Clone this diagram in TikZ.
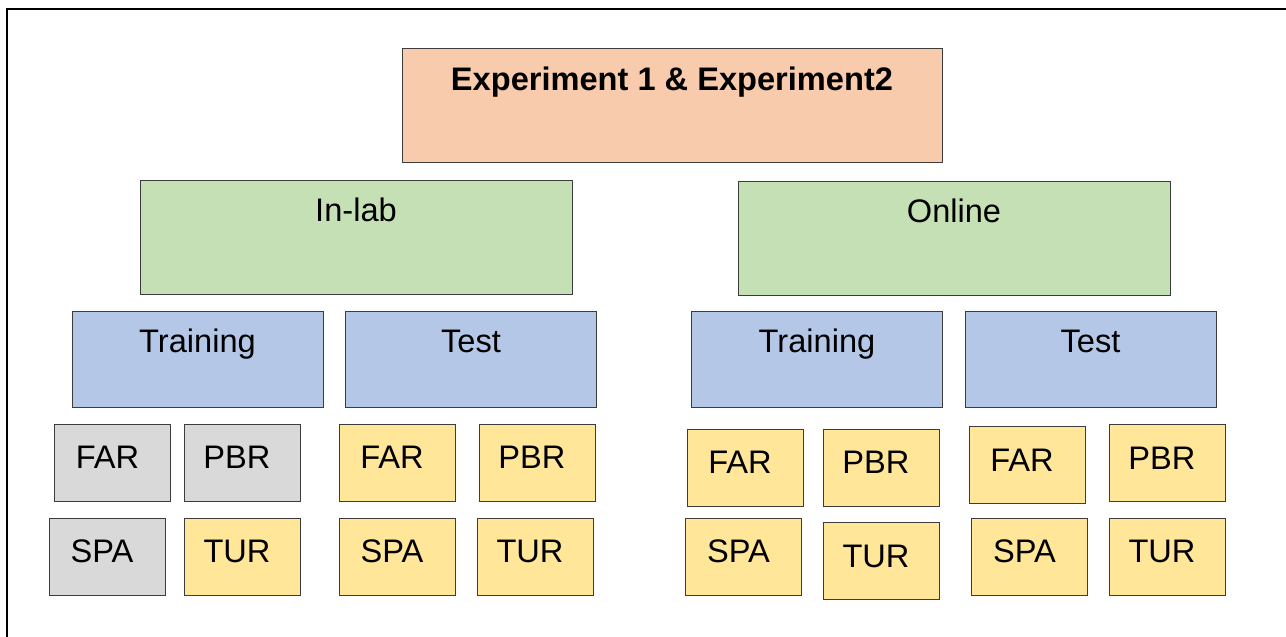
\documentclass[tikz,border=0pt]{standalone}
\usepackage{fontspec}
\setmainfont{Liberation Sans}
\definecolor{exporange}{RGB}{248, 203, 173}
\definecolor{sitegreen}{RGB}{197, 224, 180}
\definecolor{phaseblue}{RGB}{180, 199, 231}
\definecolor{skipgray}{RGB}{217, 217, 217}
\definecolor{langyellow}{RGB}{255, 230, 153}
\definecolor{edgegray}{RGB}{60, 60, 60}
\usetikzlibrary{positioning}
\tikzset{
  box/.style={draw=edgegray, line width=0.5pt, rectangle, inner sep=3pt,
    font=\fontsize{16.3}{19}\selectfont, text height=11.7pt},
  topbox/.style={box, fill=exporange, minimum width=270pt, minimum height=57pt, text depth=27pt, font=\fontsize{16.3}{19}\selectfont\bfseries},
  sitebox/.style={box, fill=sitegreen, minimum width=216pt, minimum height=57pt, text depth=27pt},
  phasebox/.style={box, fill=phaseblue, minimum width=125.5pt, minimum height=48pt, text depth=18pt},
  langbox/.style={box, fill=langyellow, minimum width=58pt, minimum height=38.5pt, text depth=5.5pt,
    execute at end node={\kern5pt}},
  greybox/.style={langbox, fill=skipgray}
}

\begin{document}
\begin{tikzpicture}[x=0.5pt, y=-0.5pt]
  \useasboundingbox (0,0) rectangle (1286,637);
  % frame
  \draw[line width=1pt] (7,637) -- (7,9) -- (1286,9);

  % Top level
  \node[topbox] (exp) at (672, 105.5) {Experiment 1 \& Experiment2};

  % Sites
  \node[sitebox] (inlab) at (356, 237) {In-lab};
  \node[sitebox] (online) at (954, 238) {Online};

  % Phases
  \node[phasebox] (trainL) at (197.5, 359) {Training};
  \node[phasebox] (testL) at (471, 359) {Test};
  \node[phasebox] (trainR) at (817, 359) {Training};
  \node[phasebox] (testR) at (1090.5, 359) {Test};

  % In-lab, training
  \node[greybox] (farLtr) at (112.5, 462.5) {FAR};
  \node[greybox] (pbrLtr) at (242, 462.5) {PBR};
  \node[greybox] (spaLtr) at (107, 556.5) {SPA};
  \node[langbox] (turLtr) at (242, 556.5) {TUR};

  % In-lab, test
  \node[langbox] (farLte) at (397, 462.5) {FAR};
  \node[langbox] (pbrLte) at (537, 462.5) {PBR};
  \node[langbox] (spaLte) at (397, 556.5) {SPA};
  \node[langbox] (turLte) at (535, 556.5) {TUR};

  % Online, training
  \node[langbox] (farRtr) at (745, 467.5) {FAR};
  \node[langbox] (pbrRtr) at (881, 467.5) {PBR};
  \node[langbox] (spaRtr) at (743.5, 556.5) {SPA};
  \node[langbox] (turRtr) at (881, 561) {TUR};

  % Online, test
  \node[langbox] (farRte) at (1027, 465) {FAR};
  \node[langbox] (pbrRte) at (1167, 463) {PBR};
  \node[langbox] (spaRte) at (1029.5, 556.5) {SPA};
  \node[langbox] (turRte) at (1167, 556.5) {TUR};
\end{tikzpicture}
\end{document}
